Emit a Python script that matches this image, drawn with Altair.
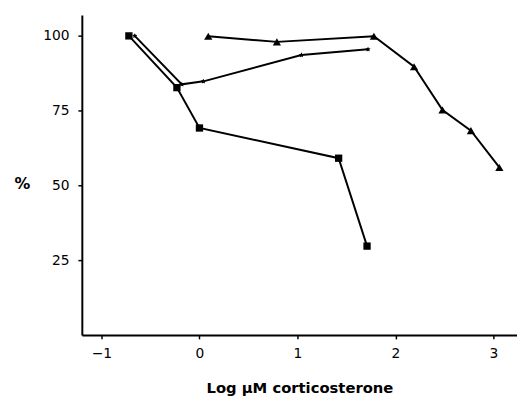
import altair as alt
import pandas as pd

sq_x = [-0.72, -0.23, 0.0, 1.42, 1.71]
sq_y = [100, 82.7, 69.2, 59.1, 29.7]
st_x = [-0.66, -0.18, 0.04, 1.04, 1.72]
st_y = [100, 83.8, 84.8, 93.6, 95.5]
tr_x = [0.09, 0.79, 1.78, 2.19, 2.48, 2.77, 3.06]
tr_y = [99.9, 98.0, 99.9, 89.7, 75.2, 68.3, 56.0]

STAR = "M0,-1L0.29,-0.4L0.95,-0.31L0.48,0.15L0.59,0.81L0,0.5L-0.59,0.81L-0.48,0.15L-0.95,-0.31L-0.29,-0.4Z"

xenc = alt.X("x:Q", scale=alt.Scale(domain=[-1.2, 3.24], nice=False, zero=False),
             axis=alt.Axis(values=[-1, 0, 1, 2, 3], title="Log \u03bcM corticosterone",
                           titleFontWeight="bold", titleFontSize=15, titleY=53,
                           titleBaseline="middle", labelFontSize=14, labelPadding=8,
                           format="d"))
yenc = alt.Y("y:Q", scale=alt.Scale(domain=[0, 107], nice=False),
             axis=alt.Axis(values=[25, 50, 75, 100], title="%", titleAngle=0,
                           titleX=-61, titleY=171, titleBaseline="middle",
                           titleAlign="center", titleFontSize=16, titleFontWeight="bold",
                           labelFontSize=14, labelPadding=9))

layers = []
for xs, ys, shape, size in [(sq_x, sq_y, "square", 55), (st_x, st_y, STAR, 30),
                            (tr_x, tr_y, "triangle-up", 70)]:
    d = pd.DataFrame({"x": xs, "y": ys, "order": list(range(len(xs)))})
    b = alt.Chart(d)
    layers.append(b.mark_line(color="black", strokeWidth=2).encode(
        x=xenc, y=yenc, order="order:Q"))
    layers.append(b.mark_point(filled=True, color="black", opacity=1, shape=shape,
                               size=size).encode(x=xenc, y=yenc))

chart = alt.layer(*layers).properties(
    width=442, height=325, autosize="none",
    padding={"left": 75, "top": 4, "right": 0, "bottom": 62}
).configure_view(stroke=None).configure_axis(
    grid=False, domainColor="black", domainWidth=2, tickColor="black", tickSize=4,
    tickWidth=1.5, labelColor="black", titleColor="black",
    labelFont="DejaVu Sans", titleFont="DejaVu Sans")

chart.save("out.html", embed_options={"renderer": "svg", "actions": False})
